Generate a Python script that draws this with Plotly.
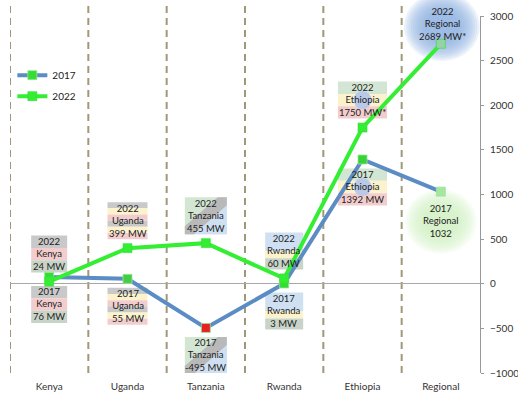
import plotly.graph_objects as go

# ---------------- data ----------------
categories = ["Kenya", "Uganda", "Tanzania", "Rwanda", "Ethiopia", "Regional"]
values_2017 = [76, 55, -495, 3, 1392, 1032]
values_2022 = [24, 399, 455, 60, 1750, 2689]
units_2017 = ["MW", "MW", "MW", "MW", "MW", ""]
units_2022 = ["MW", "MW", "MW", "MW", "MW*", "MW*"]
y_ticks = [-1000, -500, 0, 500, 1000, 1500, 2000, 2500, 3000]
Y_MIN, Y_MAX = -1000, 3000

# ---------------- styles ----------------
FONT = "Lato, 'Open Sans', sans-serif"
C2017 = "#5b8cc4"
C2022 = "#33ee33"
mk_2017 = ["#33dd33", "#45cc45", "#e52222", "#33dd33", "#36d236", "#a8e6a0"]
mk_2022 = ["#33ee33", "#33ee33", "#33ee33", "#33ee33", "#33ee33", "#93d3a6"]

GRAY = "#c9c9c9"
PINK = "#f3cdcd"
GGRAY = "#c8d4c8"
YEL = "#fcf3cc"
BLUE = "#cfe0f3"
GREEN = "#d3e5d3"

stripes = {
    "Kenya": [(GRAY, 1), (PINK, 1), (GGRAY, 1)],
    "Uganda": [(GRAY, 1), (YEL, 1), (PINK, 1), (GRAY, 1), (YEL, 1), (PINK, 1)],
    "Rwanda": [(BLUE, 0.5), (YEL, 0.2), (GGRAY, 0.3)],
    "Ethiopia": [(GREEN, 1), (YEL, 1), (PINK, 1)],
}
box_w = {"Kenya": 36, "Uganda": 40, "Tanzania": 42, "Rwanda": 38, "Ethiopia": 49}
BOX_H = 37
GAP = 9

x_idx = list(range(len(categories)))

fig = go.Figure()
fig.add_trace(go.Scatter(
    x=x_idx, y=values_2017, name="2017", mode="lines+markers", legendgroup="a",
    line=dict(color=C2017, width=4),
    marker=dict(symbol="square", size=9, color=mk_2017,
                line=dict(color="rgba(150,230,150,0.8)", width=1)),
))
fig.add_trace(go.Scatter(
    x=x_idx, y=values_2022, name="2022", mode="lines+markers", legendgroup="b",
    line=dict(color=C2022, width=4),
    marker=dict(symbol="square", size=9, color=mk_2022,
                line=dict(color="rgba(60,220,60,0.6)", width=1)),
))

shapes = []
annotations = []

# dashed category separators
for i in x_idx:
    shapes.append(dict(type="line", xref="x", yref="paper", x0=i - 0.5, x1=i - 0.5,
                       y0=0, y1=1.035, layer="below",
                       line=dict(color="#a09878", width=2, dash="7px,5px")))


def pshape(xi, yv, yref="y", **kw):
    d = dict(xref="x", yref=yref, xsizemode="pixel", ysizemode="pixel",
             xanchor=xi, yanchor=yv, layer="below", line=dict(width=0))
    d.update(kw)
    return d


def add_label(xi, yv, year, cat, val, unit, above):
    w = box_w[cat]
    if above:
        yb, yt = GAP, GAP + BOX_H
    else:
        yb, yt = -GAP - BOX_H, -GAP
    x0, x1 = -w / 2, w / 2
    if cat == "Tanzania":
        shapes.append(pshape(xi, yv, type="rect", x0=x0, x1=x1, y0=yb, y1=yt, fillcolor=GREEN))
        shapes.append(pshape(xi, yv, type="path",
                             path=f"M{x0},{yb} L{x1},{yb} L{x1},{yt} Z", fillcolor=BLUE))
        shapes.append(pshape(xi, yv, type="path",
                             path=(f"M{x0},{yb} L{x0+9},{yb} L{x1},{yt-8} L{x1},{yt} "
                                   f"L{x1-9},{yt} L{x0},{yb+8} Z"),
                             fillcolor="#b9b9b9"))
    else:
        st = stripes[cat]
        tot = sum(f for _, f in st)
        cur = yt
        for col, f in st:
            h = BOX_H * f / tot
            shapes.append(pshape(xi, yv, type="rect", x0=x0, x1=x1, y0=cur - h, y1=cur,
                                 fillcolor=col))
            cur -= h
        if cat == "Ethiopia":
            cy = (yb + yt) / 2
            shapes.append(pshape(xi, yv, type="circle", x0=-9, x1=9, y0=cy - 9, y1=cy + 9,
                                 fillcolor="#b9c9ea"))
    annotations.append(dict(
        x=xi, y=yv, xref="x", yref="y", showarrow=False,
        text=f"{year}<br>{cat}<br>{val} {unit}".strip(),
        yshift=(yb + yt) / 2, yanchor="middle", xanchor="center",
        font=dict(family=FONT, size=9.5, color="#222"), align="center"))


def add_blob(xi, yv, dx, dy, r, color, n, op):
    # glow anchored to the data value via paper fraction so it is not clipped
    yp = (yv - Y_MIN) / (Y_MAX - Y_MIN)
    for k in range(n):
        rr = r * (1 - 0.6 * k / n)
        shapes.append(pshape(xi, yp, yref="paper", type="circle", x0=dx - rr, x1=dx + rr,
                             y0=dy - rr * 0.9, y1=dy + rr * 0.9,
                             fillcolor=color, opacity=op))


for i, cat in enumerate(categories):
    v17, v22 = values_2017[i], values_2022[i]
    if cat == "Regional":
        add_blob(i, v22, 1, 17, 38, "#8db0e2", 10, 0.17)
        add_blob(i, v17, 0, -30, 36, "#cdf2c4", 10, 0.15)
        annotations.append(dict(x=i, y=v22, xref="x", yref="y", showarrow=False,
                                text=f"2022<br>{cat}<br>{v22} {units_2022[i]}",
                                yshift=20, xshift=2, yanchor="middle",
                                font=dict(family=FONT, size=9.5, color="#222")))
        annotations.append(dict(x=i, y=v17, xref="x", yref="y", showarrow=False,
                                text=f"2017<br>{cat}<br>{v17} {units_2017[i]}".strip(),
                                yshift=-29, yanchor="middle",
                                font=dict(family=FONT, size=9.5, color="#222")))
        continue
    add_label(i, v22, "2022", cat, v22, units_2022[i], above=True)
    add_label(i, v17, "2017", cat, v17, units_2017[i], above=False)

fig.update_layout(
    width=518, height=398,
    margin=dict(l=10, r=38, t=16, b=25, autoexpand=False),
    paper_bgcolor="white", plot_bgcolor="white",
    font=dict(family=FONT, size=10, color="#333"),
    shapes=shapes, annotations=annotations,
    showlegend=True,
    legend=dict(x=0.005, y=0.875, xanchor="left", yanchor="top",
                bgcolor="rgba(0,0,0,0)", font=dict(size=10, color="#222"),
                itemwidth=30, tracegroupgap=2),
    xaxis=dict(range=[-0.5, 5.5], tickmode="array", tickvals=x_idx, ticktext=categories,
               showgrid=False, zeroline=False, showline=False, ticks="", automargin=False,
               ticklabelstandoff=6, tickfont=dict(size=10, color="#333")),
    yaxis=dict(range=[Y_MIN, Y_MAX], side="right", tickvals=y_ticks, automargin=False,
               showgrid=False, zeroline=True, zerolinecolor="#a8a8a8", zerolinewidth=1,
               showline=True, linecolor="#999", linewidth=1,
               ticks="outside", ticklen=3, tickcolor="#999",
               ticklabelstandoff=4, tickfont=dict(size=10, color="#333")),
)

fig.write_html("out.html", config={"displayModeBar": False},
               post_script="document.body.style.margin='0';document.body.style.overflow='hidden';")
